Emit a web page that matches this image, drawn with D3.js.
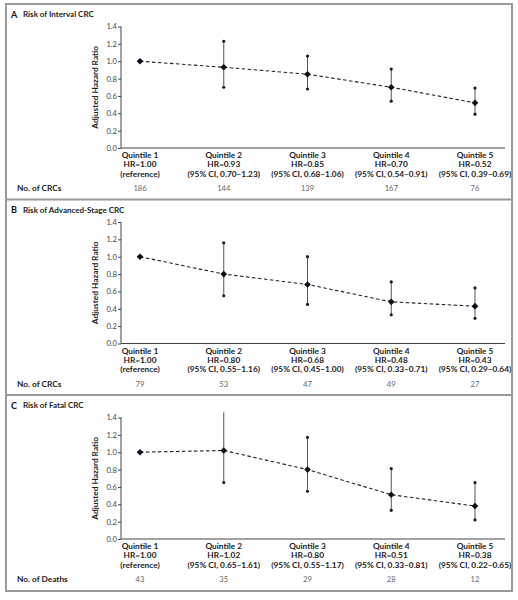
<!DOCTYPE html>
<html><head><meta charset="utf-8">
<script src="https://cdn.jsdelivr.net/npm/d3@7"></script>
<style>
body{margin:0;background:#fff;}
text{font-family:Lato,"Open Sans",sans-serif;}
</style></head>
<body>
<svg id="chart" width="518" height="600"></svg>
<script>
const quintiles = ["Quintile 1","Quintile 2","Quintile 3","Quintile 4","Quintile 5"];
const yTicks = [0.0,0.2,0.4,0.6,0.8,1.0,1.2,1.4];

const panelLetters = ["A","B","C"];
const panelTitles = ["Risk of Interval CRC","Risk of Advanced-Stage CRC","Risk of Fatal CRC"];
const countLabels = ["No. of CRCs","No. of CRCs","No. of Deaths"];

const hrA = [1.00,0.93,0.85,0.70,0.52];
const loA = [null,0.70,0.68,0.54,0.39];
const hiA = [null,1.23,1.06,0.91,0.69];
const nA  = [186,144,139,167,76];

const hrB = [1.00,0.80,0.68,0.48,0.43];
const loB = [null,0.55,0.45,0.33,0.29];
const hiB = [null,1.16,1.00,0.71,0.64];
const nB  = [79,53,47,49,27];

const hrC = [1.00,1.02,0.80,0.51,0.38];
const loC = [null,0.65,0.55,0.33,0.22];
const hiC = [null,1.61,1.17,0.81,0.65];
const nC  = [43,35,29,28,12];

const panels = [
  {hr:hrA, lo:loA, hi:hiA, n:nA},
  {hr:hrB, lo:loB, hi:hiB, n:nB},
  {hr:hrC, lo:loC, hi:hiC, n:nC}
];

const svg = d3.select("#chart");
const frame = {x0:6, x1:512, y0:4, y1:591};
const panelTops = [4, 199.5, 395];

const x = d3.scalePoint().domain(quintiles).range([140, 475]);
const axisX0 = 121, axisX1 = 505;
const clipMax = 1.46;

function fmt(v){ return v.toFixed(2); }

panels.forEach((p, i) => {
  const top = panelTops[i];
  const g = svg.append("g").attr("transform", `translate(0,${top})`);
  const y = d3.scaleLinear().domain([0, 1.4]).range([144, 22.5]);

  // title
  g.append("text").attr("x", 11).attr("y", 13.5)
    .attr("font-size", 9).attr("font-weight", 700).attr("fill", "#111")
    .text(panelLetters[i]);
  g.append("text").attr("x", 23).attr("y", 13)
    .attr("font-size", 8).attr("font-weight", 700).attr("fill", "#222")
    .text(panelTitles[i]);

  // y axis
  const yAxis = d3.axisLeft(y).tickValues(yTicks).tickFormat(d3.format(".1f"))
    .tickSize(3).tickSizeOuter(0);
  const ya = g.append("g").attr("transform", `translate(${axisX0},0)`).call(yAxis);
  ya.select(".domain").attr("stroke", "#444").attr("d", `M0,${y(1.4)}V${y(0)}`);
  ya.selectAll(".tick line").attr("stroke", "#444");
  ya.selectAll(".tick text").attr("font-size", 7.6).attr("fill", "#444")
    .attr("font-family", "Lato, 'Open Sans', sans-serif").attr("x", -4);

  // x axis line
  g.append("line").attr("x1", axisX0).attr("x2", axisX1)
    .attr("y1", y(0)).attr("y2", y(0)).attr("stroke", "#444").attr("stroke-width", 1);

  // y axis title
  g.append("text")
    .attr("transform", `translate(98,${(y(0)+y(1.4))/2}) rotate(-90)`)
    .attr("text-anchor", "middle").attr("font-size", 8.3).attr("font-weight", 700)
    .attr("fill", "#222").text("Adjusted Hazard Ratio");

  // dashed line
  const line = d3.line().x((d, k) => x(quintiles[k])).y(d => y(d));
  g.append("path").datum(p.hr).attr("d", line)
    .attr("fill", "none").attr("stroke", "#222").attr("stroke-width", 1.1)
    .attr("stroke-dasharray", "3.5,2.5");

  // error bars
  quintiles.forEach((q, k) => {
    if (p.lo[k] == null) return;
    const hiV = Math.min(p.hi[k], clipMax);
    g.append("line").attr("x1", x(q)).attr("x2", x(q))
      .attr("y1", y(p.lo[k])).attr("y2", y(hiV))
      .attr("stroke", "#555").attr("stroke-width", 1);
    g.append("circle").attr("cx", x(q)).attr("cy", y(p.lo[k])).attr("r", 1.6).attr("fill", "#0d2236");
    if (p.hi[k] <= clipMax)
      g.append("circle").attr("cx", x(q)).attr("cy", y(p.hi[k])).attr("r", 1.6).attr("fill", "#0d2236");
  });

  // HR points (diamond)
  g.selectAll(".pt").data(p.hr).join("path")
    .attr("d", d3.symbol().type(d3.symbolSquare).size(22))
    .attr("transform", (d, k) => `translate(${x(quintiles[k])},${y(d)}) rotate(45)`)
    .attr("fill", "#0a0f1a");

  // category labels
  quintiles.forEach((q, k) => {
    const tx = x(q);
    const t = g.append("text").attr("text-anchor", "middle").attr("font-size", 8.3)
      .attr("font-weight", 700).attr("fill", "#222");
    t.append("tspan").attr("x", tx).attr("y", 154.3).text(q);
    t.append("tspan").attr("x", tx).attr("y", 163.4).text("HR=" + fmt(p.hr[k]));
    t.append("tspan").attr("x", tx).attr("y", 172.6)
      .text(k === 0 ? "(reference)" : `(95% CI, ${fmt(p.lo[k])}\u2013${fmt(p.hi[k])})`);
    g.append("text").attr("x", tx).attr("y", 187.2).attr("text-anchor", "middle")
      .attr("font-size", 7.6).attr("fill", "#666").text(p.n[k]);
  });

  g.append("text").attr("x", 17).attr("y", 187.2).attr("font-size", 8.3)
    .attr("font-weight", 700).attr("fill", "#222").text(countLabels[i]);
});

// frame and separators
svg.append("rect").attr("x", frame.x0).attr("y", frame.y0)
  .attr("width", frame.x1 - frame.x0).attr("height", frame.y1 - frame.y0)
  .attr("fill", "none").attr("stroke", "#9a9a9a").attr("stroke-width", 2);
[199.5, 395].forEach(yy => {
  svg.append("line").attr("x1", frame.x0).attr("x2", frame.x1)
    .attr("y1", yy).attr("y2", yy).attr("stroke", "#9a9a9a").attr("stroke-width", 2);
});
</script>
</body></html>
